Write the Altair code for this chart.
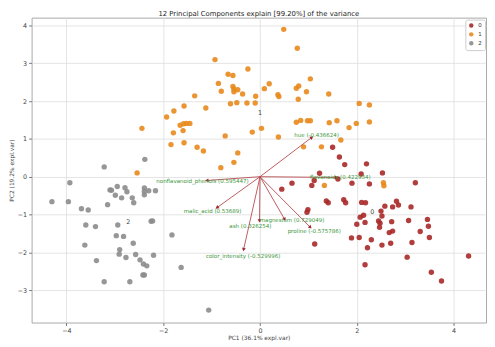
import math
import altair as alt
import pandas as pd

# ---- scores (PC1, PC2) by cluster ----
red_x = [1.50, 1.64, 1.75, 2.20, 2.53, 2.09, 1.23, 1.12, 1.07, 1.61, 1.90, 2.26, 0.66, 0.45, 3.21,
         1.37, 1.41, 1.73, 1.77, 2.10, 2.18, 0.99, 0.97, 2.58, 2.74, 2.82, 2.86, 3.12, 2.50, 2.52,
         2.14, 2.07, 2.00, 2.17, 2.45, 2.48, 2.47, 2.72, 2.67, 2.74, 3.07, 3.46, 3.48, 3.31, 3.50,
         3.14, 2.70, 2.52, 2.30, 2.22, 1.89, 2.05, 1.13, 2.17, 3.04, 3.54, 3.75, 4.31]
red_y = [0.78, 0.52, 0.32, 0.34, 0.10, 0.07, 0.09, -0.10, -0.23, -0.06, -0.17, -0.19, -0.17, -0.33, -0.16,
         -0.64, -0.69, -0.61, -0.69, -0.68, -0.69, -0.87, -0.94, -0.78, -0.80, -0.65, -0.75, -0.80, -0.91, -1.04,
         -1.02, -1.07, -1.26, -1.21, -1.17, -1.23, -1.34, -1.19, -1.48, -1.44, -1.16, -1.13, -1.31, -1.45, -1.61,
         -1.74, -1.76, -1.81, -1.67, -1.88, -1.62, -1.61, -1.78, -2.33, -2.13, -2.53, -2.76, -2.10]

orange_x = [0.49, 0.77, -0.93, -0.25, -0.66, -0.56, -0.86, 0.19, 1.04, -0.56, -0.54, -0.46, -0.54, -0.80,
            -0.36, 0.09, 0.37, 0.39, 0.75, 0.80, 0.96, 1.42, 0.79, -0.09, -1.35, -0.61, -0.48, -0.27, -0.10,
            -1.12, -1.57, -1.78, -1.93, -1.65, -1.58, -1.52, -1.45, -1.59, -1.79, -2.44, -0.72, -0.16, 0.03,
            0.38, 0.75, 0.84, 0.98, 1.04, 1.43, 1.59, 1.84, 1.99, 2.26, 2.05, 2.26, -1.84, -1.57, -1.30,
            -1.17, -0.46, -0.54, -0.81, -2.54, 0.90, 1.27, 1.67, 1.33, 2.55, 2.56]
orange_y = [3.90, 3.40, 3.10, 2.85, 2.71, 2.68, 2.47, 2.46, 2.59, 2.39, 2.32, 2.30, 2.25, 2.26,
            2.19, 2.33, 2.17, 2.12, 2.34, 2.40, 2.25, 2.19, 2.05, 2.13, 2.14, 1.93, 1.96, 1.95, 1.95,
            1.82, 1.87, 1.74, 1.58, 1.36, 1.40, 1.41, 1.41, 1.22, 1.16, 1.28, 1.08, 1.18, 1.28,
            1.05, 1.44, 1.49, 1.48, 1.48, 1.43, 1.48, 1.30, 1.41, 1.45, 1.94, 1.90, 0.85, 0.90, 0.78,
            0.68, 0.63, 0.38, 0.24, 0.10, 0.79, 0.79, 0.97, -0.23, -0.16, -0.24]

gray_x = [-2.38, -3.22, -3.93, -4.30, -3.96, -3.69, -3.55, -3.10, -3.07, -2.95, -2.79, -2.75, -2.99, -2.86,
          -2.64, -2.61, -3.15, -2.39, -2.39, -2.39, -2.30, -2.16, -3.60, -3.40, -2.94, -2.25, -2.22, -1.82,
          -2.97, -2.82, -2.62, -3.62, -2.90, -2.91, -2.77, -2.57, -2.48, -2.41, -2.34, -2.20, -3.38, -3.22,
          -2.69, -2.42, -2.39, -1.63, -1.06]
gray_y = [0.46, 0.26, -0.16, -0.66, -0.66, -0.85, -0.88, -0.35, -0.36, -0.26, -0.29, -0.40, -0.49, -0.56,
          -0.56, -0.69, -0.74, -0.30, -0.39, -0.48, -0.37, -0.37, -1.28, -1.32, -1.28, -1.18, -1.17, -1.54,
          -1.56, -1.58, -1.76, -1.81, -1.93, -2.05, -2.14, -2.06, -2.20, -2.31, -2.36, -2.08, -2.22, -2.78,
          -2.78, -2.60, -2.60, -2.40, -3.53]

# ---- loadings ----
feat_names = ["hue", "flavanoids", "nonflavanoid_phenols", "malic_acid", "ash", "magnesium",
              "proline", "color_intensity"]
feat_values = ["-0.436624", "0.422934", "0.595447", "0.53689", "0.326254", "0.729049",
               "-0.575786", "-0.529996"]
tip_x = [1.07, 1.58, -1.10, -0.89, -0.01, 0.51, 1.04, -0.34]
tip_y = [1.04, -0.02, -0.10, -0.82, -1.17, -1.13, -1.34, -1.93]
lab_x = [1.17, 1.66, -1.19, -0.98, -0.20, 0.66, 1.12, -0.35]
lab_y = [1.09, 0.00, -0.12, -0.90, -1.31, -1.15, -1.45, -2.11]

# ---- cluster centre labels ----
cl_names = ["0", "1", "2"]
cl_x = [2.32, 0.00, -2.72]
cl_y = [-0.94, 1.69, -1.21]

colors = ["#a82828", "#e8891c", "#8c8c8c"]
TX = "PC1 (36.1% expl.var)"
TY = "PC2 (19.2% expl.var)"
FONT = "DejaVu Sans"

pts = pd.DataFrame({
    "PC1": red_x + orange_x + gray_x,
    "PC2": red_y + orange_y + gray_y,
    "cluster": ["0"] * len(red_x) + ["1"] * len(orange_x) + ["2"] * len(gray_x),
})

PXX = 462 / (4.67 + 4.72)
PXY = 310 / (4.21 + 3.86)
ld = pd.DataFrame({
    "PC1": tip_x, "PC2": tip_y, "lx": lab_x, "ly": lab_y,
    "label": [f"{n} ({v})" for n, v in zip(feat_names, feat_values)],
})
ld["ang"] = [(math.degrees(math.atan2(x * PXX, y * PXY)) + 360) % 360 for x, y in zip(tip_x, tip_y)]

cl = pd.DataFrame({"PC1": cl_x, "PC2": cl_y, "name": cl_names})

xs = alt.Scale(domain=[-4.72, 4.67], nice=False, zero=False)
ys = alt.Scale(domain=[-3.86, 4.21], nice=False, zero=False)

xax = alt.Axis(values=[-4, -2, 0, 2, 4], titleY=17, titleBaseline="alphabetic")
yax = alt.Axis(values=[-3, -2, -1, 0, 1, 2, 3, 4], titleX=-20, titleBaseline="middle")

X = alt.X("PC1:Q", scale=xs, axis=xax, title=TX)
Y = alt.Y("PC2:Q", scale=ys, axis=yax, title=TY)

points = alt.Chart(pts).mark_circle(size=30, opacity=0.9).encode(
    x=X, y=Y,
    color=alt.Color("cluster:N",
                    scale=alt.Scale(domain=cl_names, range=colors),
                    legend=alt.Legend(title=None, orient="none", legendX=441, legendY=2,
                                      fillColor="white", strokeColor="#cccccc", padding=3,
                                      cornerRadius=2, symbolSize=20, symbolType="circle",
                                      labelFontSize=5.5, labelFont=FONT, labelColor="#333",
                                      rowPadding=2, symbolOpacity=0.9)),
)

rules = alt.Chart(ld).mark_rule(color="#b5484d", strokeWidth=0.9).encode(
    x=X, y=Y, x2=alt.datum(0), y2=alt.datum(0)
)

heads = alt.Chart(ld).mark_point(shape="triangle-up", filled=True, size=16,
                                 color="#a0282c", opacity=1).encode(
    x=X, y=Y, angle=alt.Angle("ang:Q", scale=None)
)

labels = alt.Chart(ld).mark_text(fontSize=5.6, font=FONT, color="#3a963a",
                                 align="center", baseline="middle").encode(
    x=alt.X("lx:Q", scale=xs, axis=xax, title=TX),
    y=alt.Y("ly:Q", scale=ys, axis=yax, title=TY),
    text="label:N",
)

cl_text = alt.Chart(cl).mark_text(fontSize=6.5, font=FONT, color="#444444",
                                  align="center", baseline="middle").encode(
    x=X, y=Y, text="name:N"
)

chart = alt.layer(points, rules, heads, labels, cl_text).properties(
    width=462, height=310,
    autosize=alt.AutoSizeParams(type="none"),
    padding={"left": 24, "top": 7, "right": 1, "bottom": 18},
    title=alt.TitleParams("12 Principal Components explain [99.20%] of the variance",
                          fontSize=7, font=FONT, fontWeight="normal", color="#222",
                          anchor="middle", offset=1),
).configure_view(
    stroke="#a8a8a8", strokeWidth=1
).configure_axis(
    grid=True, gridColor="#dcdcdc", gridWidth=0.8, domain=False,
    tickColor="#777777", tickSize=3, labelPadding=2,
    labelFont=FONT, labelFontSize=6.5, labelColor="#444444",
    titleFont=FONT, titleFontSize=6, titleFontWeight="normal", titleColor="#444444",
)

chart.save("out.html", embed_options={"renderer": "svg", "actions": False})
